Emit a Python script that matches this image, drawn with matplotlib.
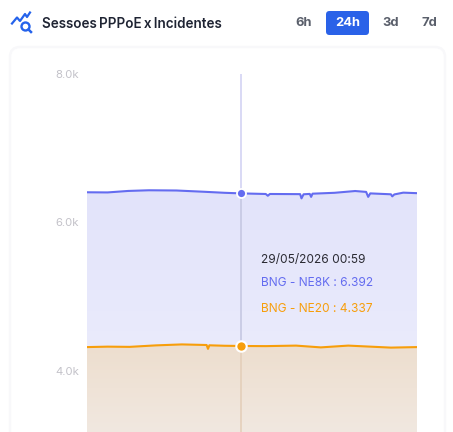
import numpy as np
import matplotlib
matplotlib.use("Agg")
import matplotlib.pyplot as plt
from matplotlib.patches import FancyBboxPatch, Circle
from matplotlib.colors import LinearSegmentedColormap

plt.rcParams['font.family'] = ['Inter', 'DejaVu Sans']

# data
ne8k_hours = [0, 1.5, 3, 4.5, 6.5, 8.5, 10, 11.2, 13, 13.15, 13.3, 15.5, 15.6, 15.75, 16.2, 16.3, 16.4,
              18, 19.5, 20.3, 20.45, 20.6, 22.1, 22.2, 22.35, 23, 24]
ne8k_values = [6407, 6405, 6425, 6434, 6431, 6414, 6400, 6392, 6384, 6360, 6384, 6382, 6325, 6380, 6385, 6345, 6388,
               6400, 6424, 6412, 6345, 6392, 6380, 6352, 6378, 6402, 6395]
ne20_hours = [0, 1.5, 3.1, 5, 6.9, 8.7, 8.8, 8.9, 10, 11.2, 13, 15.2, 17, 19, 22.1, 24]
ne20_values = [4322, 4328, 4325, 4345, 4358, 4350, 4298, 4346, 4340, 4337, 4335, 4342, 4318, 4342, 4315, 4322]
y_ticks = [4000, 6000, 8000]
y_labels = ['4.0k', '6.0k', '8.0k']
cursor_hour = 11.2
cursor_ne8k = 6392
cursor_ne20 = 4337
ranges = ['6h', '24h', '3d', '7d']

W, H = 453, 432
fig = plt.figure(figsize=(W / 100, H / 100), dpi=100, facecolor='white')

# page overlay in pixels
bg = fig.add_axes([0, 0, 1, 1])
bg.set_xlim(0, W)
bg.set_ylim(H, 0)
bg.axis('off')

card = FancyBboxPatch((10, 47), 435, 420, boxstyle='round,pad=0,rounding_size=10',
                      fc='white', ec='#f8f8fa', lw=1.8)
bg.add_patch(card)

# icon
icon = '#2563eb'
bg.plot([12, 17, 20, 25, 27, 30], [23.5, 17.5, 21, 14, 17, 12.5], color=icon, lw=1.6)
bg.add_patch(Circle((25.5, 26.5), 4, fc='none', ec=icon, lw=1.7))
bg.plot([28.5, 31], [29.5, 32], color=icon, lw=1.8)

bg.text(42, 24.5, 'Sessoes\u2009PPPoE\u2009x\u2009Incidentes', fontsize=9.7, fontweight=600, color='#1f2433',
        va='center', ha='left')

btn = FancyBboxPatch((326, 11), 43, 24, boxstyle='round,pad=0,rounding_size=3.5', fc='#2a62e8', ec='none')
bg.add_patch(btn)
for lab, cx in zip(ranges, [304, 347.5, 390.5, 429]):
    bg.text(cx, 23, lab, fontsize=9.3, fontweight=700, ha='center', va='center',
            color='white' if lab == '24h' else '#5a5f6b')

# chart
ax = fig.add_axes([87 / W, 0, 330 / W, (H - 74) / H])
ax.patch.set_alpha(0)
y_bottom = 8000 - (H - 74) / 74.25 * 1000
ax.set_xlim(0, 24)
ax.set_ylim(y_bottom, 8000)


def gradient_fill(hours, values, c_top, c_bottom, top_val, zorder):
    cmap = LinearSegmentedColormap.from_list('g', [c_bottom, c_top])
    grad = np.linspace(0, 1, 256).reshape(-1, 1)
    im = ax.imshow(grad, origin='lower', aspect='auto', cmap=cmap,
                   extent=[0, 24, y_bottom, top_val], zorder=zorder)
    poly = ax.fill_between(hours, values, y_bottom, color='none', lw=0)
    im.set_clip_path(poly.get_paths()[0], transform=ax.transData)


gradient_fill(ne8k_hours, ne8k_values, '#e2e3fa', '#eeeffd', 6450, 1)
gradient_fill(ne20_hours, ne20_values, '#eddece', '#f1e8e0', 4360, 2)
ax.set_xlim(0, 24)
ax.set_ylim(y_bottom, 8000)

ax.plot(ne8k_hours, ne8k_values, color='#646cf0', lw=1.5, zorder=4, solid_joinstyle='round')
ax.plot(ne20_hours, ne20_values, color='#f79e0b', lw=1.5, zorder=4, solid_joinstyle='round')

# cursor
ax.plot([cursor_hour, cursor_hour], [cursor_ne8k, 8000], color='#d3d3f3', lw=1.2, zorder=3)
ax.plot([cursor_hour, cursor_hour], [cursor_ne20, cursor_ne8k], color='#c6c8e2', lw=1.2, zorder=3)
ax.plot([cursor_hour, cursor_hour], [y_bottom, cursor_ne20], color='#e4cfba', lw=1.2, zorder=3)
ax.plot(cursor_hour, cursor_ne8k, 'o', ms=6.5, mfc='#646cf0', mec='white', mew=1.3, zorder=5)
ax.plot(cursor_hour, cursor_ne20, 'o', ms=7.5, mfc='#f79e0b', mec='white', mew=1.5, zorder=5)

for s in ax.spines.values():
    s.set_visible(False)
ax.set_xticks([])
ax.set_yticks(y_ticks)
ax.set_yticklabels(y_labels, fontsize=8.2, color='#c3c2c9')
ax.tick_params(axis='y', length=0, pad=5.8)

# tooltip
bg.set_zorder(0)
ax.set_zorder(1)
ax.text(261, 260.5, '29/05/2026 00:59', transform=bg.transData, fontsize=8.6, color='#2b2b33', va='center', zorder=6)
ax.text(261, 282.5, 'BNG - NE8K : 6.392', transform=bg.transData, fontsize=8.6, color='#646cf0', va='center', zorder=6)
ax.text(261, 308.5, 'BNG - NE20 : 4.337', transform=bg.transData, fontsize=8.6, color='#f79e0b', va='center', zorder=6)

fig.savefig('out.png', dpi=100)
